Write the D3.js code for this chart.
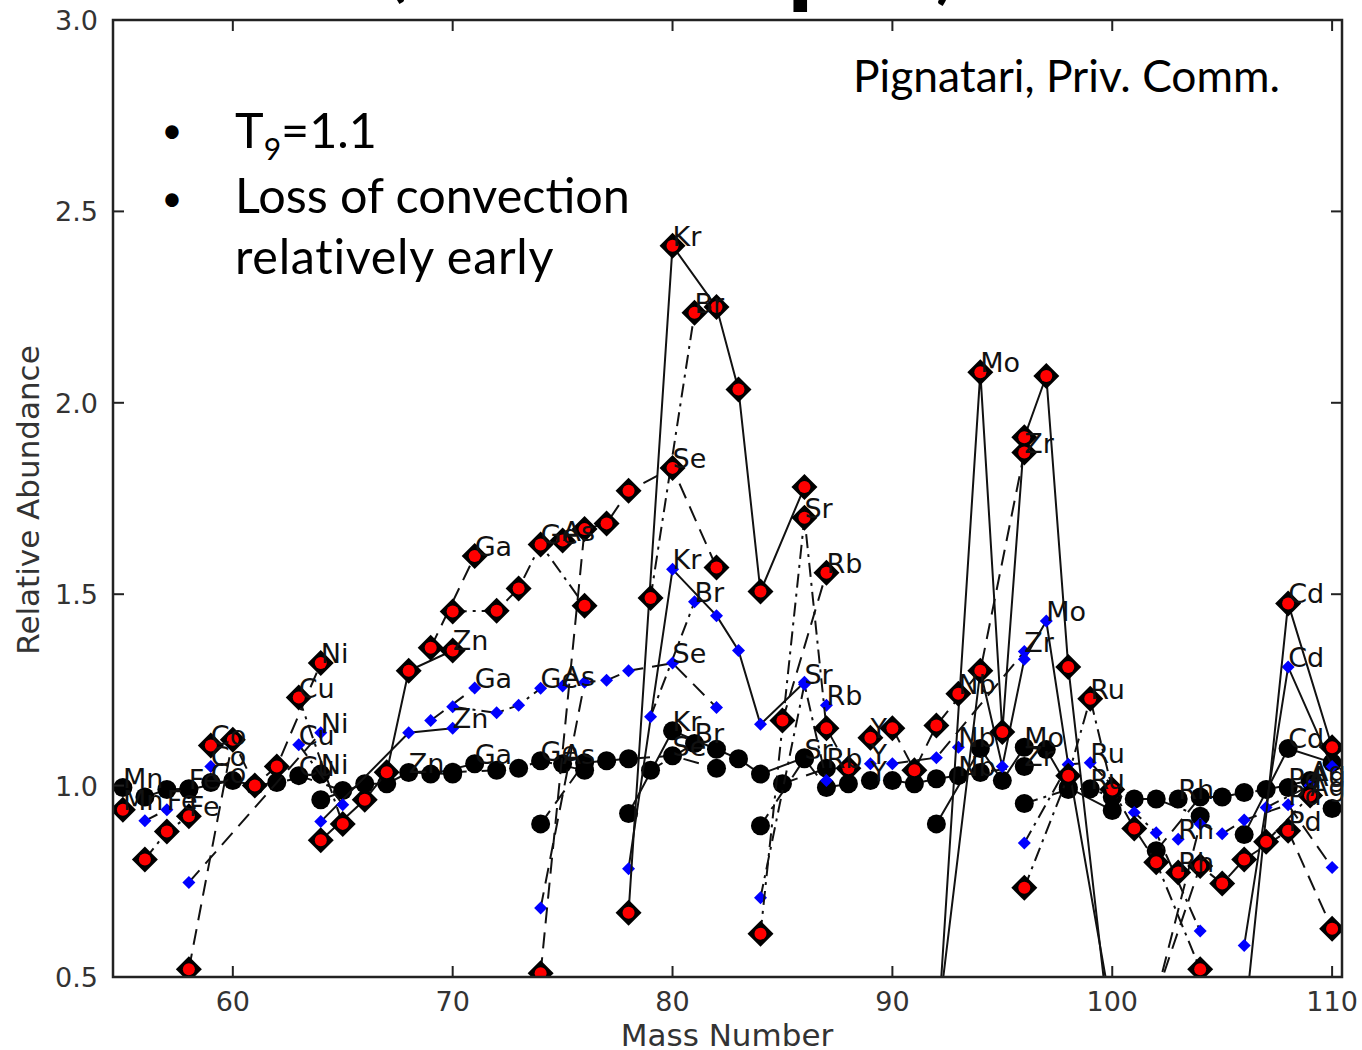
<!DOCTYPE html>
<html><head><meta charset="utf-8">
<script src="https://cdn.jsdelivr.net/npm/d3@7"></script>
<style>body{margin:0;background:#fff}svg{display:block}</style>
</head><body>
<svg id="c" width="1362" height="1050"></svg>
<script>
// ---- DATA ----
const isoElem = ["Mn","Fe","Fe","Fe","Co","Ni","Ni","Ni","Ni","Ni","Cu","Cu","Zn","Zn","Zn","Zn","Zn","Ga","Ga",
  "Ge","Ge","Ge","Ge","Ge","As","Se","Se","Se","Se","Se","Se","Br","Br","Kr","Kr","Kr","Kr","Kr","Kr","Rb","Rb",
  "Sr","Sr","Sr","Sr","Y","Zr","Zr","Zr","Zr","Zr","Nb","Mo","Mo","Mo","Mo","Mo","Mo","Mo",
  "Ru","Ru","Ru","Ru","Ru","Ru","Ru","Rh","Pd","Pd","Pd","Pd","Pd","Pd","Ag","Ag","Cd","Cd","Cd"];
const isoMass = [55,56,57,58,59,58,60,61,62,64,63,65,64,66,67,68,70,69,71,
  70,72,73,74,76,75,74,76,77,78,80,82,79,81,78,80,82,83,84,86,85,87,
  84,86,87,88,89,90,91,92,94,96,93,92,94,95,96,97,98,100,
  96,98,99,100,101,102,104,103,102,104,105,106,108,110,107,109,106,108,110];
const blackVal = [0.995,0.97,0.99,0.992,1.008,0.99,1.013,1.0,1.008,1.03,1.026,0.987,0.963,1.005,1.005,1.034,1.03,1.03,1.057,
  1.035,1.04,1.045,1.065,1.04,1.057,0.90,1.06,1.065,1.07,1.078,1.045,1.04,1.11,0.927,1.143,1.095,1.07,1.03,1.073,1.005,1.045,
  0.895,1.07,0.995,1.005,1.013,1.013,1.005,1.018,1.034,1.05,1.026,0.90,1.097,1.013,1.10,1.094,0.995,0.935,
  0.953,0.99,0.992,0.97,0.965,0.965,0.92,0.965,0.83,0.97,0.97,0.982,0.995,0.94,0.99,1.013,0.872,1.097,1.06];
const blueVal = [null,0.908,0.937,null,1.05,0.747,null,null,null,1.138,1.107,0.95,0.906,null,null,1.138,1.15,1.17,1.255,
  1.206,1.19,1.21,1.254,null,1.26,0.68,1.27,1.275,1.30,1.32,1.204,1.18,1.48,0.783,1.565,1.444,1.353,1.16,1.27,null,1.21,
  0.707,1.265,1.013,null,1.057,1.057,null,1.073,null,1.35,1.10,0.35,1.30,1.05,1.33,1.43,1.055,0.40,
  0.85,1.055,1.06,1.0,0.93,0.877,0.62,0.86,0.45,0.90,0.874,0.91,0.95,0.786,0.943,1.0,0.582,1.31,1.05];
const redVal = [0.937,0.807,0.88,0.92,1.105,0.52,1.12,1.0,1.05,1.32,1.23,0.90,0.857,0.963,1.035,1.30,1.353,1.36,1.60,
  1.455,1.457,1.515,1.63,1.47,1.64,0.51,1.67,1.685,1.77,1.83,1.57,1.49,2.235,0.668,2.41,2.25,2.035,1.507,1.78,1.17,1.556,
  0.613,1.70,1.15,1.045,1.125,1.15,1.04,1.157,1.30,1.87,1.24,0.30,2.08,1.14,1.91,2.07,1.31,0.30,
  0.733,1.026,1.227,0.99,0.888,0.80,0.52,0.773,0.45,0.79,0.744,0.807,0.882,0.626,0.853,0.974,0.37,1.476,1.10];
const elemNames = ["Fe","Ni","Cu","Zn","Ga","Ge","Se","Br","Kr","Rb","Sr","Zr","Mo","Ru","Pd","Ag","Cd"];
const elemStyle = ["-.","--","-.","-","--","-.","--","-.","-","--","-.","--","-","-.","--","-.","-"];
const xTicks = [60,70,80,90,100,110];
const yTicks = [0.5,1.0,1.5,2.0,2.5,3.0];
const xDomain = [54.55,110.45];
const yDomain = [0.5,3.0];

// ---- LAYOUT ----
const L=113, R=1342, T=20, B=977;
const svg = d3.select("#c");
const x = d3.scaleLinear().domain(xDomain).range([L,R]);
const y = d3.scaleLinear().domain(yDomain).range([B,T]);
const dashMap = {"-":null,"--":"16,9","-.":"14,6,3,6"};
const styleOf = {}; elemNames.forEach((e,i)=>styleOf[e]=elemStyle[i]);

svg.append("defs").append("clipPath").attr("id","clip")
  .append("rect").attr("x",L).attr("y",T).attr("width",R-L).attr("height",B-T);

// partial title glyphs cut at the top edge
[["(",397,-6,64],["p",818,-6,110],[")",945,-4,64]].forEach(([t,px,py,fs])=>{
  svg.append("text").attr("x",px).attr("y",py).attr("text-anchor","middle")
    .attr("font-family","Lato").attr("font-weight","bold").attr("font-size",fs).text(t);
});

function build(vals){
  const pts = isoMass.map((m,i)=>({m, e:isoElem[i], v:vals[i]})).filter(d=>d.v!=null);
  return {pts, groups: d3.group(pts, d=>d.e)};
}
const series = [
  {name:"black", vals:blackVal},
  {name:"blue", vals:blueVal},
  {name:"red", vals:redVal}
];
const plot = svg.append("g").attr("clip-path","url(#clip)");
const line = d3.line().x(d=>x(d.m)).y(d=>y(d.v));
const labels = [];
series.forEach(s=>{
  const {pts, groups} = build(s.vals);
  const g = plot.append("g");
  groups.forEach((arr,e)=>{
    const a = arr.slice().sort((p,q)=>p.m-q.m);
    if(a.length>1){
      g.append("path").attr("d",line(a)).attr("fill","none").attr("stroke","#111")
        .attr("stroke-width",2).attr("stroke-dasharray",dashMap[styleOf[e]]);
    }
    const mx = a.reduce((p,q)=>q.v>p.v?q:p);
    if(mx.v>=yDomain[0]) labels.push(mx);
  });
  if(s.name==="black"){
    g.selectAll("circle").data(pts).join("circle").attr("cx",d=>x(d.m)).attr("cy",d=>y(d.v)).attr("r",9.5).attr("fill","#000");
  } else if(s.name==="blue"){
    g.selectAll("path.m").data(pts).join("path").attr("class","m")
      .attr("d",d=>{const cx=x(d.m),cy=y(d.v),r=6.5;return `M${cx},${cy-r}L${cx+r},${cy}L${cx},${cy+r}L${cx-r},${cy}Z`;})
      .attr("fill","#0000ff");
  } else {
    g.selectAll("path.m").data(pts).join("path").attr("class","m")
      .attr("d",d=>{const cx=x(d.m),cy=y(d.v),r=13;return `M${cx},${cy-r}L${cx+r},${cy}L${cx},${cy+r}L${cx-r},${cy}Z`;})
      .attr("fill","#000");
    g.selectAll("circle").data(pts).join("circle").attr("cx",d=>x(d.m)).attr("cy",d=>y(d.v)).attr("r",6).attr("fill","#ff0000");
  }
});
svg.append("g").selectAll("text").data(labels).join("text")
  .attr("x",d=>x(d.m)).attr("y",d=>y(d.v)).attr("font-family","DejaVu Sans").attr("font-size",27)
  .attr("fill","#111").text(d=>d.e);

// ---- AXES ----
const ax = svg.append("g").attr("stroke","#222").attr("stroke-width",2);
xTicks.forEach(t=>{
  ax.append("line").attr("x1",x(t)).attr("x2",x(t)).attr("y1",B).attr("y2",B-11);
  ax.append("line").attr("x1",x(t)).attr("x2",x(t)).attr("y1",T).attr("y2",T+11);
});
yTicks.forEach(t=>{
  ax.append("line").attr("x1",L).attr("x2",L+11).attr("y1",y(t)).attr("y2",y(t));
  ax.append("line").attr("x1",R).attr("x2",R-11).attr("y1",y(t)).attr("y2",y(t));
});
svg.append("rect").attr("x",L).attr("y",T).attr("width",R-L).attr("height",B-T)
  .attr("fill","none").attr("stroke","#222").attr("stroke-width",2.5);
const tk = svg.append("g").attr("font-family","DejaVu Sans").attr("font-size",27).attr("fill","#333");
xTicks.forEach(t=>tk.append("text").attr("x",x(t)).attr("y",1011).attr("text-anchor","middle").text(t));
yTicks.forEach(t=>tk.append("text").attr("x",98).attr("y",y(t)+10).attr("text-anchor","end").text(t.toFixed(1)));
tk.append("text").attr("x",727).attr("y",1046).attr("text-anchor","middle").attr("font-size",31).text("Mass Number");
tk.append("text").attr("transform","translate(39,500) rotate(-90)").attr("text-anchor","middle").attr("font-size",31).text("Relative Abundance");

// ---- ANNOTATIONS ----
function fit(sel,target){const w=sel.node().getComputedTextLength();const fs=+sel.attr("font-size");sel.attr("font-size",fs*target/w);}
const ann = svg.append("g").attr("font-family","Lato").attr("fill","#000");
const t1 = ann.append("text").attr("x",235).attr("y",148).attr("font-size",44);
t1.append("tspan").text("T");
t1.append("tspan").attr("font-size",30).attr("dy",12).text("9");
t1.append("tspan").attr("dy",-12).text("=1.1");
const t2 = ann.append("text").attr("x",235).attr("y",213).attr("font-size",44).text("Loss of convection");
fit(t2,395);
const fs2 = +t2.attr("font-size");
t1.attr("font-size",fs2);
ann.append("text").attr("x",235).attr("y",274).attr("font-size",fs2).attr("letter-spacing",0.7).text("relatively early");
ann.append("text").attr("x",172).attr("y",143).attr("font-size",36).attr("text-anchor","middle").text("•");
ann.append("text").attr("x",172).attr("y",211).attr("font-size",36).attr("text-anchor","middle").text("•");
const t4 = ann.append("text").attr("x",853).attr("y",92).attr("font-size",32).text("Pignatari, Priv. Comm.");
fit(t4,427);
</script>
</body></html>
